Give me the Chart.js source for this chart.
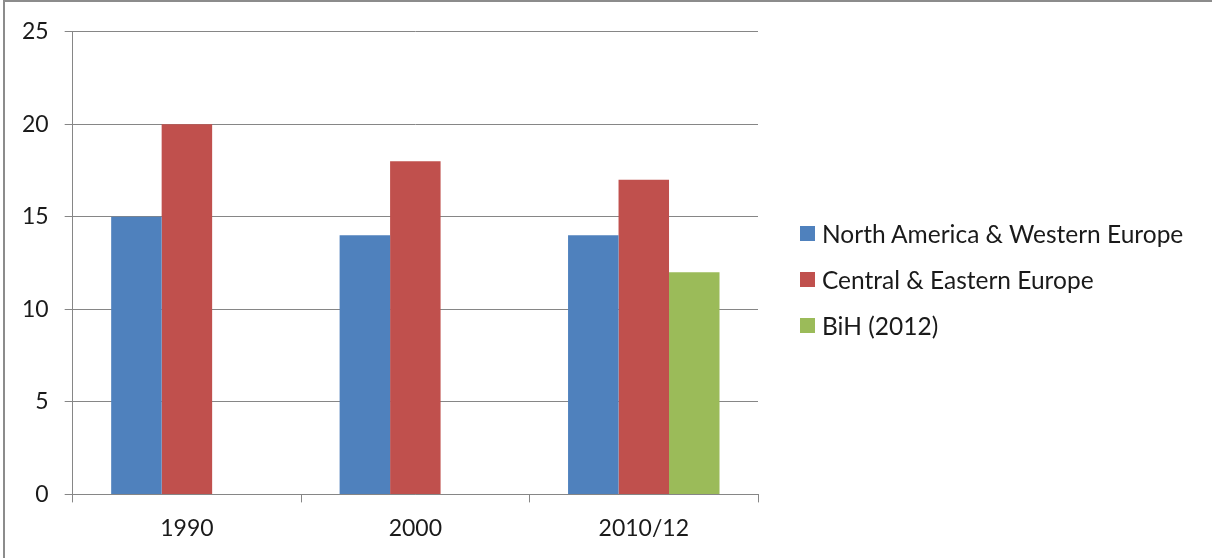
<!DOCTYPE html>
<html>
<head>
<meta charset="utf-8">
<script src="https://cdn.jsdelivr.net/npm/chart.js@4/dist/chart.umd.min.js"></script>
<style>
  html, body { margin: 0; padding: 0; background: #fff; }
  #marco {
    position: absolute; left: 3px; top: 0;
    width: 1209px; height: 558px;
    border-top: 2px solid #8c8c8c; border-left: 2px solid #8c8c8c;
    box-sizing: border-box;
  }
  #grafica { display: block; }
  #leyenda {
    position: absolute; left: 800px; top: 210px;
    font-family: Lato, "Open Sans", sans-serif; font-size: 24.5px; color: #1a1a1a;
  }
  #leyenda .fila { display: flex; align-items: center; height: 46px; white-space: nowrap; }
  #leyenda .caja { width: 15px; height: 15px; margin-right: 7px; flex: none; }
</style>
</head>
<body>
<div id="marco"><canvas id="grafica" width="1207" height="556"></canvas></div>
<div id="leyenda"></div>
<script>
// periodos y series
const periodos = ['1990', '2000', '2010/12'];
const norteAmericaOeste = [15, 14, 14];
const centroEste = [20, 18, 17];
const bih = [null, null, 12];
const marcasY = [0, 5, 10, 15, 20, 25];

const gris = '#868686';
const fuente = 'Lato, "Open Sans", sans-serif';

function dibujar() {
  var ctx = document.getElementById('grafica').getContext('2d');
  window.grafica = new Chart(ctx, {
    type: 'bar',
    data: {
      labels: periodos,
      datasets: [{
        label: 'North America & Western Europe',
        data: norteAmericaOeste,
        backgroundColor: '#4F81BD'
      }, {
        label: 'Central & Eastern Europe',
        data: centroEste,
        backgroundColor: '#C0504D'
      }, {
        label: 'BiH (2012)',
        data: bih,
        backgroundColor: '#9BBB59'
      }]
    },
    options: {
      responsive: false,
      animation: false,
      layout: { padding: { left: 1, top: 16, right: 454, bottom: 4 } },
      datasets: {
        bar: { categoryPercentage: 0.663, barPercentage: 1.0 }
      },
      plugins: {
        tooltip: { enabled: false },
        legend: { display: false }
      },
      scales: {
        x: {
          grid: { offset: true, drawOnChartArea: false, drawTicks: true, tickLength: 8, color: gris },
          border: { color: gris, width: 1 },
          ticks: { color: '#1a1a1a', padding: 12, font: { family: fuente, size: 23 } }
        },
        y: {
          min: 0,
          max: 25,
          afterBuildTicks: (eje) => { eje.ticks = marcasY.map(v => ({ value: v })); },
          grid: { color: gris, drawTicks: true, tickLength: 8 },
          border: { color: gris, width: 1 },
          ticks: { color: '#1a1a1a', padding: 16, font: { family: fuente, size: 23 } }
        }
      }
    }
  });

  // leyenda a la derecha, sacada de los datasets
  let leyenda = document.getElementById('leyenda');
  leyenda.innerHTML = window.grafica.data.datasets.map(d =>
    `<div class="fila"><span class="caja" style="background:${d.backgroundColor}"></span>${d.label}</div>`
  ).join('');
}

// esperar a la fuente antes de medir
document.fonts.load('23px Lato').then(dibujar, dibujar);
</script>
</body>
</html>
